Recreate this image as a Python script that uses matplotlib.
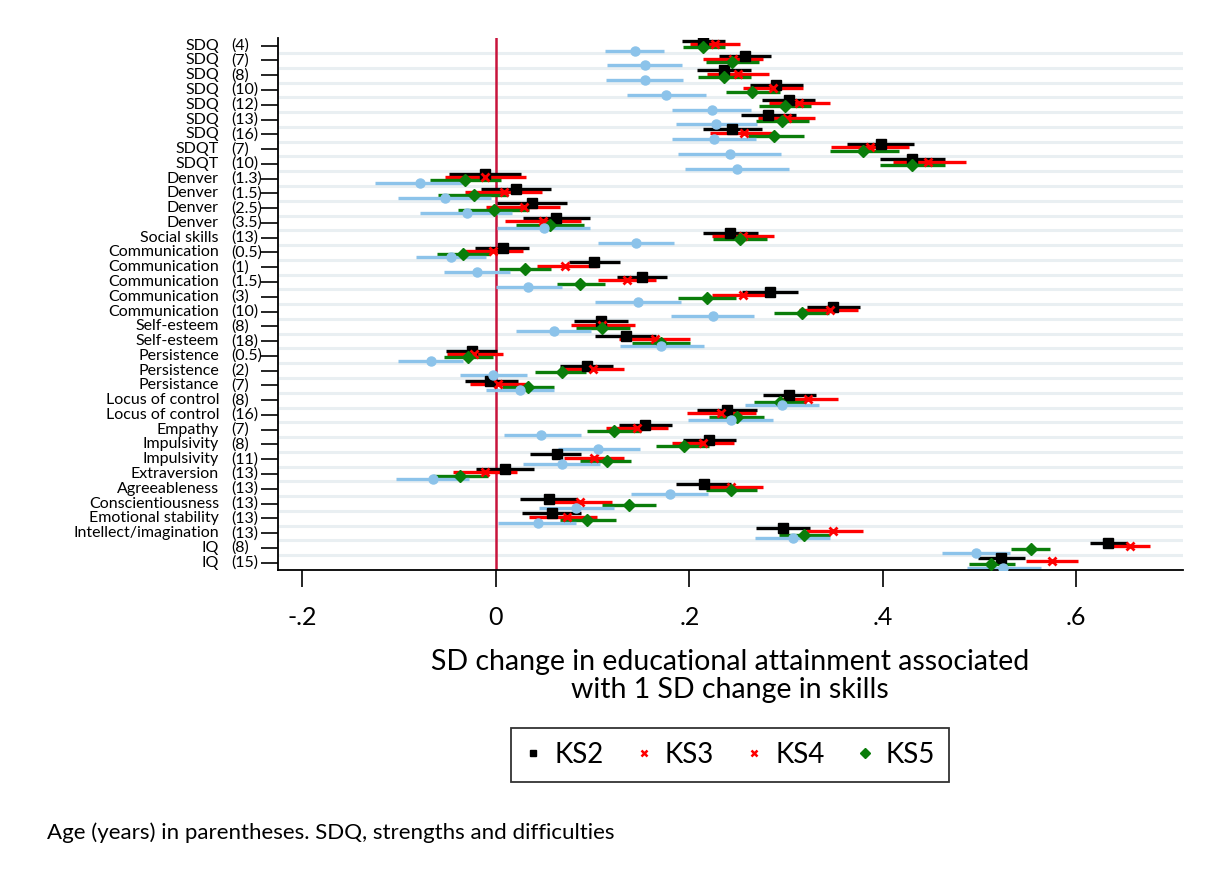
import matplotlib
matplotlib.use("Agg")
import matplotlib.pyplot as plt
from matplotlib.lines import Line2D
from matplotlib import transforms
import numpy as np

plt.rcParams['font.family'] = ['Lato', 'DejaVu Sans']

# skills and age (years) of measurement
skills = ["SDQ", "SDQ", "SDQ", "SDQ", "SDQ", "SDQ", "SDQ", "SDQT", "SDQT",
          "Denver", "Denver", "Denver", "Denver", "Social skills",
          "Communication", "Communication", "Communication", "Communication", "Communication",
          "Self-esteem", "Self-esteem", "Persistence", "Persistence", "Persistance",
          "Locus of control", "Locus of control", "Empathy", "Impulsivity", "Impulsivity",
          "Extraversion", "Agreeableness", "Conscientiousness", "Emotional stability",
          "Intellect/imagination", "IQ", "IQ"]
ages = ["4", "7", "8", "10", "12", "13", "16", "7", "10",
        "1.3", "1.5", "2.5", "3.5", "13",
        "0.5", "1", "1.5", "3", "10",
        "8", "18", "0.5", "2", "7",
        "8", "16", "7", "8", "11",
        "13", "13", "13", "13", "13", "8", "15"]

# KS2 (black squares)
ks2_est = [0.214, 0.257, 0.236, 0.290, 0.303, 0.281, 0.244, 0.398, 0.430,
           -0.011, 0.021, 0.037, 0.062, 0.242, 0.007, 0.101, 0.151, 0.283, 0.349,
           0.109, 0.134, -0.025, 0.094, -0.006, 0.303, 0.239, 0.154, 0.220, 0.063,
           0.009, 0.215, 0.055, 0.058, 0.297, 0.633, 0.522]
ks2_lo = [0.192, 0.231, 0.208, 0.263, 0.275, 0.253, 0.214, 0.363, 0.397,
          -0.048, -0.015, 0.001, 0.028, 0.214, -0.022, 0.076, 0.125, 0.254, 0.322,
          0.081, 0.102, -0.052, 0.066, -0.032, 0.276, 0.208, 0.127, 0.193, 0.035,
          -0.021, 0.186, 0.025, 0.027, 0.269, 0.614, 0.498]
ks2_hi = [0.237, 0.284, 0.264, 0.317, 0.330, 0.310, 0.275, 0.432, 0.464,
          0.026, 0.057, 0.073, 0.097, 0.271, 0.034, 0.128, 0.177, 0.312, 0.376,
          0.137, 0.166, 0.001, 0.121, 0.023, 0.331, 0.270, 0.182, 0.248, 0.088,
          0.039, 0.243, 0.084, 0.088, 0.325, 0.652, 0.547]

# KS3 (red crosses)
ks3_est = [0.226, 0.245, 0.250, 0.286, 0.313, 0.301, 0.256, 0.387, 0.447,
           -0.011, 0.008, 0.029, 0.049, 0.255, -0.003, 0.071, 0.136, 0.255, 0.345,
           0.110, 0.164, -0.023, 0.100, 0.002, 0.323, 0.233, 0.146, 0.214, 0.101,
           -0.011, 0.243, 0.087, 0.073, 0.348, 0.655, 0.575]
ks3_lo = [0.201, 0.214, 0.218, 0.255, 0.282, 0.271, 0.221, 0.346, 0.410,
          -0.053, -0.032, -0.010, 0.009, 0.223, -0.032, 0.043, 0.106, 0.223, 0.313,
          0.078, 0.127, -0.051, 0.068, -0.027, 0.295, 0.198, 0.114, 0.182, 0.070,
          -0.044, 0.211, 0.054, 0.034, 0.321, 0.633, 0.548]
ks3_hi = [0.252, 0.276, 0.282, 0.317, 0.345, 0.330, 0.287, 0.427, 0.486,
          0.031, 0.048, 0.066, 0.088, 0.288, 0.028, 0.104, 0.166, 0.288, 0.374,
          0.144, 0.201, 0.007, 0.132, 0.032, 0.354, 0.269, 0.178, 0.246, 0.132,
          0.022, 0.276, 0.120, 0.104, 0.379, 0.676, 0.602]

# KS5 (green diamonds)
ks5_est = [0.214, 0.244, 0.236, 0.265, 0.299, 0.296, 0.288, 0.380, 0.430,
           -0.032, -0.023, -0.002, 0.056, 0.252, -0.034, 0.030, 0.087, 0.218, 0.316,
           0.110, 0.171, -0.029, 0.068, 0.033, 0.294, 0.249, 0.122, 0.194, 0.115,
           -0.037, 0.243, 0.138, 0.094, 0.319, 0.553, 0.512]
ks5_lo = [0.193, 0.217, 0.209, 0.238, 0.272, 0.269, 0.261, 0.345, 0.397,
          -0.068, -0.060, -0.039, 0.021, 0.224, -0.061, 0.003, 0.063, 0.188, 0.288,
          0.083, 0.141, -0.054, 0.040, 0.006, 0.267, 0.220, 0.094, 0.166, 0.087,
          -0.065, 0.217, 0.110, 0.066, 0.293, 0.532, 0.489]
ks5_hi = [0.237, 0.272, 0.264, 0.294, 0.326, 0.324, 0.318, 0.417, 0.464,
          0.005, 0.013, 0.034, 0.091, 0.280, -0.006, 0.057, 0.113, 0.248, 0.344,
          0.139, 0.201, -0.003, 0.093, 0.060, 0.321, 0.277, 0.150, 0.220, 0.140,
          -0.008, 0.270, 0.166, 0.124, 0.345, 0.573, 0.537]

# light blue circles (not in legend)
other_est = [0.144, 0.154, 0.154, 0.176, 0.223, 0.228, 0.225, 0.242, 0.249,
             -0.078, -0.053, -0.030, 0.050, 0.145, -0.046, -0.020, 0.033, 0.147, 0.224,
             0.060, 0.171, -0.067, -0.003, 0.025, 0.296, 0.243, 0.047, 0.106, 0.068,
             -0.065, 0.180, 0.083, 0.044, 0.307, 0.496, 0.524]
other_lo = [0.113, 0.115, 0.114, 0.136, 0.182, 0.186, 0.182, 0.188, 0.196,
            -0.125, -0.101, -0.078, 0.001, 0.106, -0.083, -0.054, 0.000, 0.102, 0.181,
            0.021, 0.128, -0.101, -0.037, -0.010, 0.258, 0.199, 0.008, 0.064, 0.028,
            -0.103, 0.140, 0.045, 0.002, 0.268, 0.461, 0.487]
other_hi = [0.174, 0.192, 0.193, 0.217, 0.264, 0.270, 0.269, 0.295, 0.303,
            -0.032, -0.005, 0.017, 0.097, 0.184, -0.010, 0.015, 0.068, 0.191, 0.267,
            0.098, 0.215, -0.034, 0.032, 0.060, 0.334, 0.286, 0.088, 0.149, 0.108,
            -0.028, 0.219, 0.122, 0.083, 0.345, 0.531, 0.564]

xticks = [-0.2, 0, 0.2, 0.4, 0.6]
xticklabels = ["-.2", "0", ".2", ".4", ".6"]

fig = plt.figure(figsize=(12.08, 8.76), dpi=100)
ax = fig.add_axes([0.2301, 0.3493, 0.7492, 0.6073])

n = len(skills)
rows = np.arange(n)

# light gridlines between the rows
for r in rows[:-1]:
    ax.axhline(r + 0.5, color='#e9eff2', lw=2.2, zorder=0)

ax.axvline(0, color='#c8143c', lw=1.8, zorder=1)

series = [
    (ks2_est, ks2_lo, ks2_hi, -0.33, 'black', 's', 6.5),
    (ks3_est, ks3_lo, ks3_hi, -0.11, '#ff0000', 'x', 6),
    (ks5_est, ks5_lo, ks5_hi, 0.11, '#0a7d0a', 'D', 6.5),
    (other_est, other_lo, other_hi, 0.33, '#8cc3ea', 'o', 6.5),
]
for est, lo, hi, off, col, mk, ms in series:
    est = np.array(est)
    y = rows + off
    ax.hlines(y, lo, hi, color=col, lw=2.4, zorder=2)
    ax.plot(est, y, ls='none', marker=mk, color=col, ms=ms, mew=2 if mk == 'x' else 1, zorder=3)

ax.set_xlim(-0.2253, 0.7103)
ax.set_ylim(n - 0.5, -0.52)

for s in ['top', 'right']:
    ax.spines[s].set_visible(False)
ax.spines['left'].set_linewidth(1.3)
ax.spines['bottom'].set_linewidth(1.3)

ax.set_xticks(xticks)
ax.set_xticklabels(xticklabels, fontsize=18)
ax.tick_params(axis='x', length=12, width=1.2, pad=14)
ax.set_yticks(rows)
ax.set_yticklabels([])
ax.tick_params(axis='y', length=12, width=1.2)

# two-part y labels: skill name and age
trans = transforms.blended_transform_factory(fig.transFigure, ax.transData)
for r in rows:
    ax.text(219 / 1208, r, skills[r], transform=trans, ha='right', va='center', fontsize=11.5)
    ax.text(231 / 1208, r, "(" + ages[r] + ")", transform=trans, ha='left', va='center', fontsize=11.5)

fig.text(730 / 1208, 1 - 676 / 876,
         "SD change in educational attainment associated\nwith 1 SD change in skills",
         ha='center', va='center', fontsize=20.5, linespacing=1.05)

handles = [
    Line2D([], [], ls='none', marker='s', color='black', ms=5),
    Line2D([], [], ls='none', marker='x', color='#ff0000', ms=5, mew=1.8),
    Line2D([], [], ls='none', marker='x', color='#ff0000', ms=5, mew=1.8),
    Line2D([], [], ls='none', marker='D', color='#0a7d0a', ms=5),
]
leg = fig.legend(handles, ["KS2", "KS3", "KS4", "KS5"], ncol=4,
                 loc='center', bbox_to_anchor=(730 / 1208, 1 - 755 / 876),
                 fontsize=20, frameon=True, fancybox=False, handlelength=0.6,
                 handletextpad=0.45, columnspacing=1.15, borderpad=0.5)
leg.get_frame().set_edgecolor('black')
leg.get_frame().set_linewidth(1.3)

fig.text(47 / 1208, 1 - 833 / 876, "Age (years) in parentheses. SDQ, strengths and difficulties",
         ha='left', va='center', fontsize=16)

fig.savefig("out.png", dpi=100)
